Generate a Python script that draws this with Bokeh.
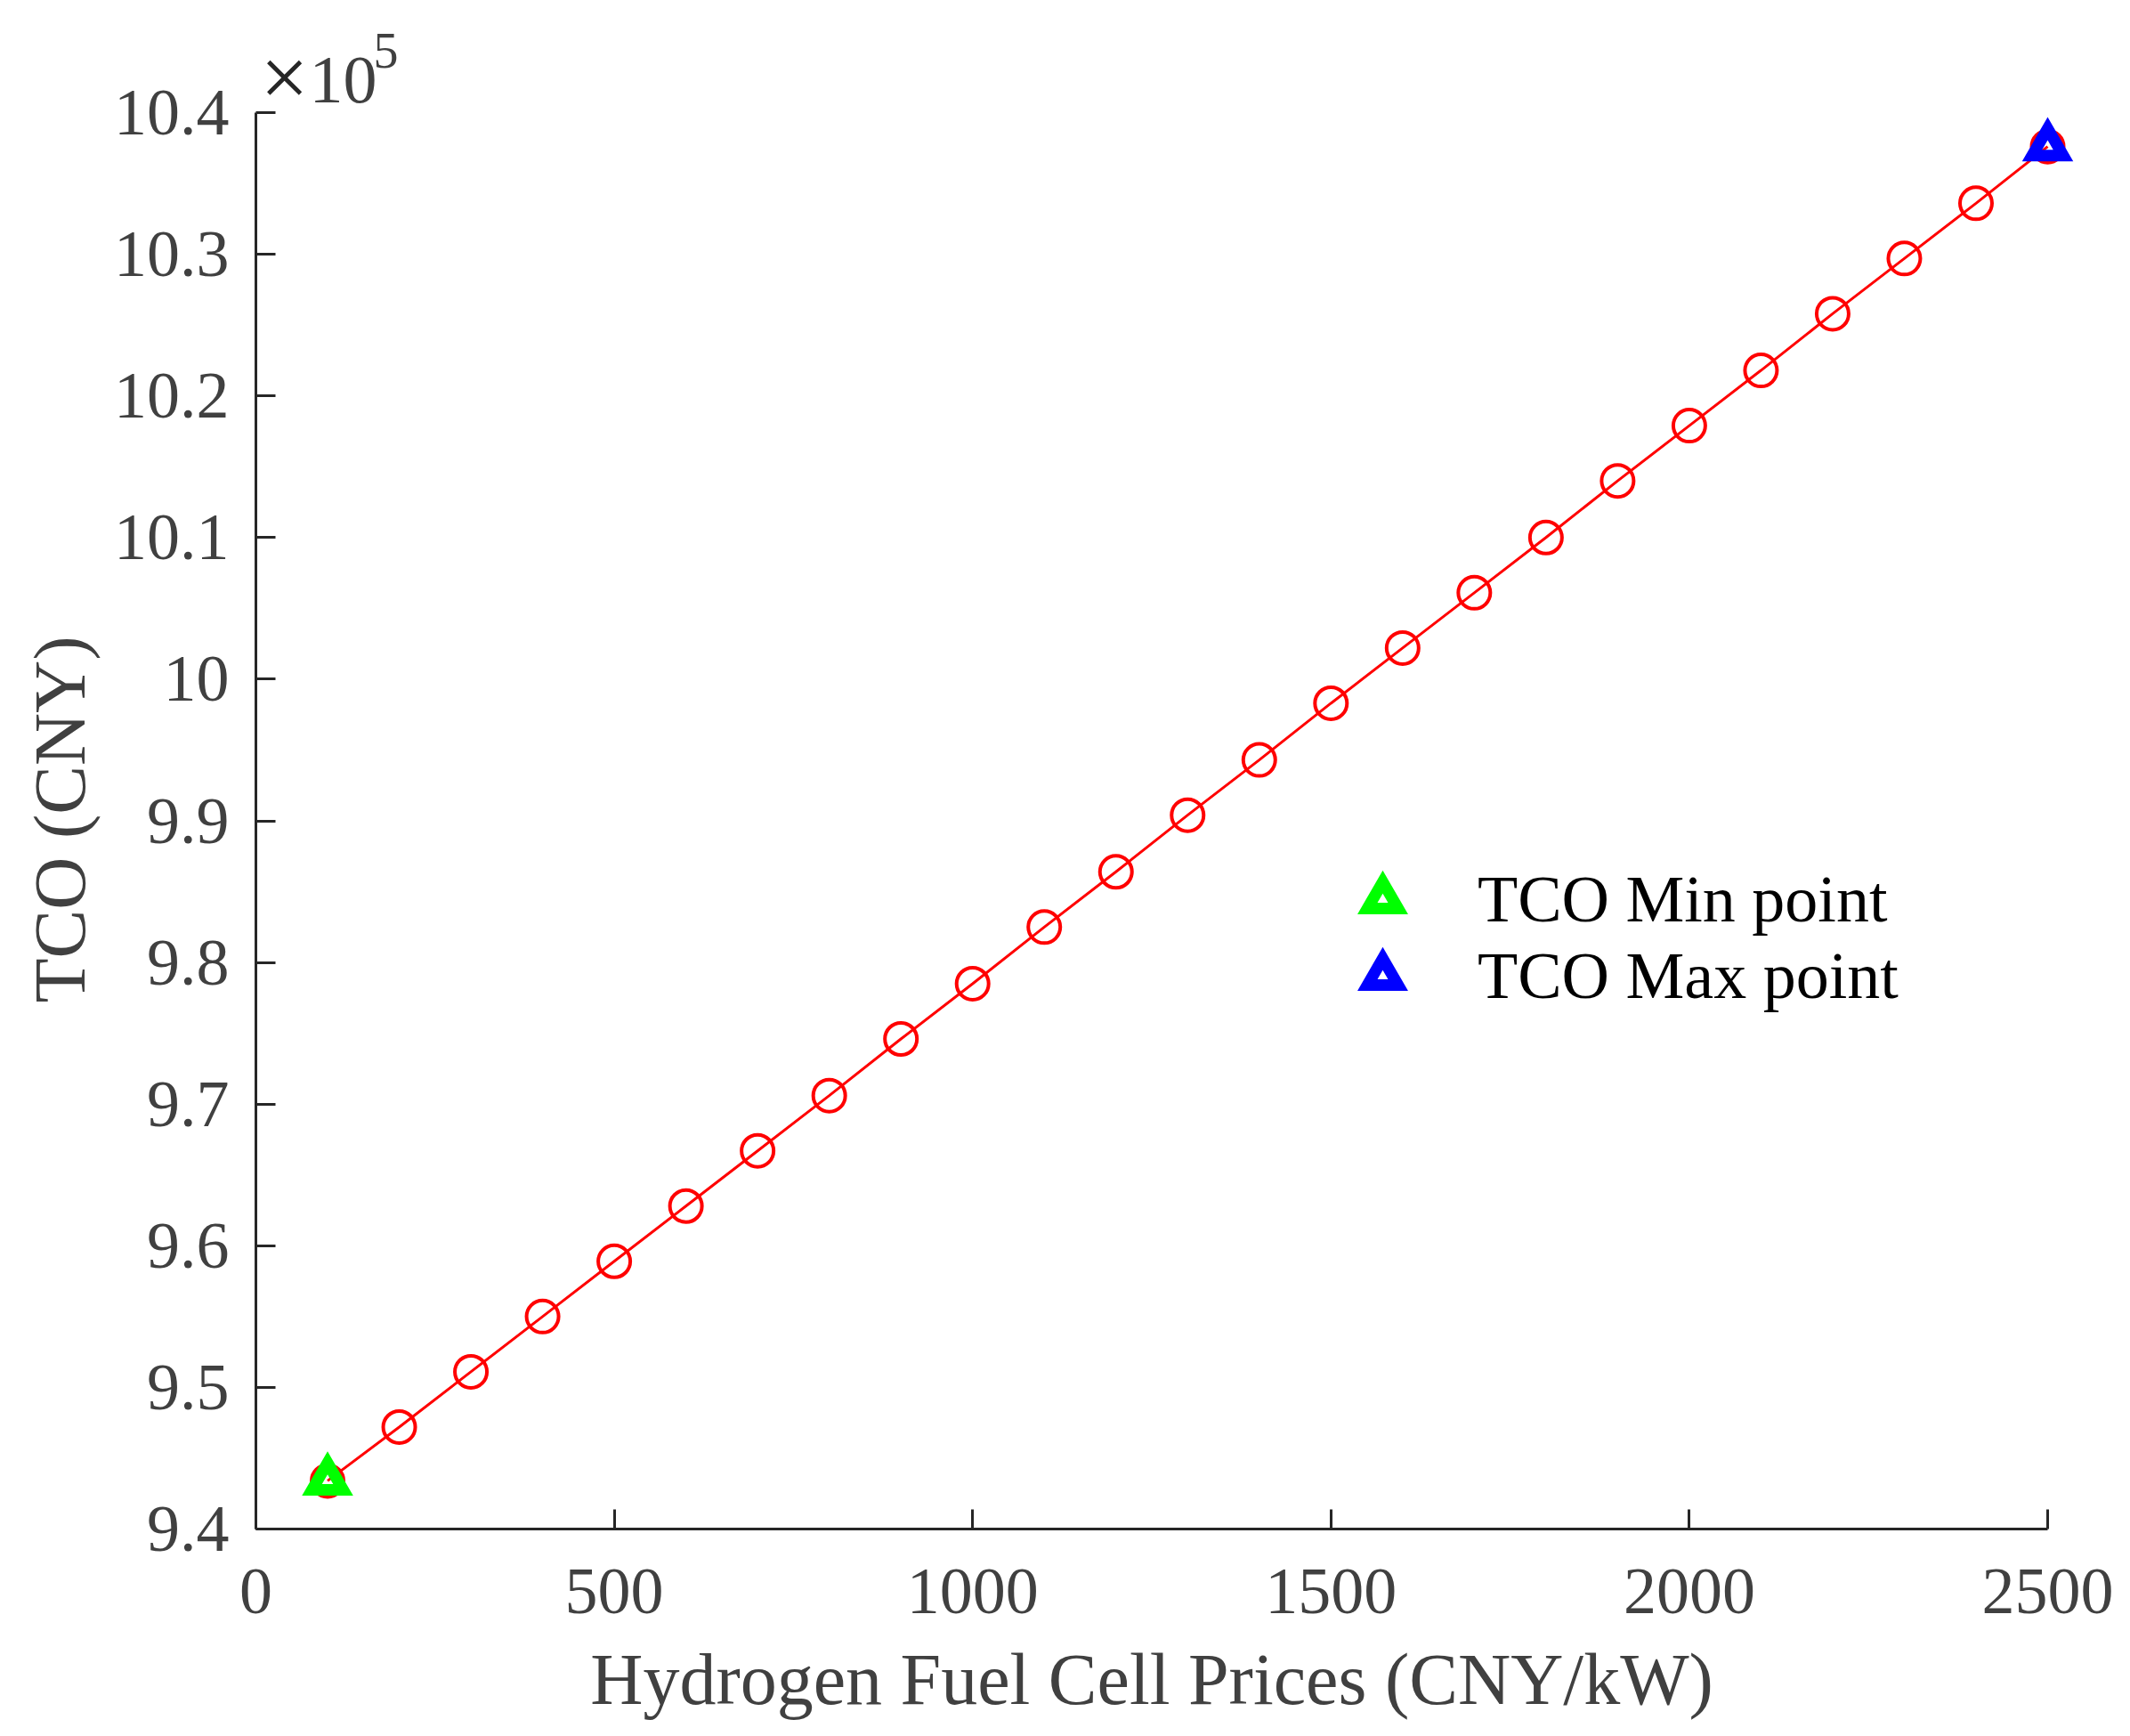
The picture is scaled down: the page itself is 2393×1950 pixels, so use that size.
import math
from bokeh.plotting import figure
from bokeh.models import (Range1d, FixedTicker, CustomJSTickFormatter, Label, Legend,
                          LegendItem, LinearAxis)
from bokeh.embed import file_html
from bokeh.resources import INLINE

# ---- Data (TCO in units of 1e5 CNY) ----
prices = [100, 200, 300, 400, 500, 600, 700, 800, 900, 1000, 1100, 1200, 1300,
          1400, 1500, 1600, 1700, 1800, 1900, 2000, 2100, 2200, 2300, 2400, 2500]
tco = [9.434, 9.472, 9.511, 9.550, 9.589, 9.628, 9.667, 9.706, 9.746, 9.785,
       9.825, 9.864, 9.904, 9.943, 9.983, 10.022, 10.061, 10.100, 10.140, 10.179,
       10.218, 10.258, 10.297, 10.336, 10.376]
min_price, min_tco = [100], [9.434]
max_price, max_tco = [2500], [10.376]
x_ticks = [0, 500, 1000, 1500, 2000, 2500]
y_ticks = [9.4, 9.5, 9.6, 9.7, 9.8, 9.9, 10.0, 10.1, 10.2, 10.3, 10.4]
x_lim = (0, 2500)
y_lim = (9.4, 10.4)

# ---- Layout (pixels) ----
W, H = 2377, 1934
AX_L, AX_R, AX_T, AX_B = 287, 2300, 126, 1717
SX = (AX_R - AX_L) / (x_lim[1] - x_lim[0])
SY = (AX_B - AX_T) / (y_lim[1] - y_lim[0])
X0 = x_lim[0] - AX_L / SX
X1 = X0 + W / SX
Y1 = y_lim[1] + AX_T / SY
Y0 = Y1 - H / SY
BASE_FIX = 0.3  # empirical baseline correction (fraction of font size)

def px2x(px):
    return X0 + px / SX

def py2y(py):
    return Y1 - py / SY

FONT = "Liberation Serif"
TICK_COLOR = "#404040"
AXIS_COLOR = "#262626"

p = figure(width=W, height=H, output_backend="svg", toolbar_location=None,
           x_range=Range1d(X0, X1), y_range=Range1d(Y0, Y1),
           x_axis_location=None, y_axis_location=None,
           min_border=0, min_border_left=0, min_border_right=0,
           min_border_top=0, min_border_bottom=0)
p.outline_line_color = None
p.grid.visible = False
p.background_fill_color = "white"
p.border_fill_color = "white"

xaxis = LinearAxis(fixed_location=y_lim[0], bounds=x_lim, ticker=FixedTicker(ticks=x_ticks))
yaxis = LinearAxis(fixed_location=x_lim[0], bounds=y_lim, ticker=FixedTicker(ticks=y_ticks))
yaxis.formatter = CustomJSTickFormatter(code="""
    if (Math.abs(tick - Math.round(tick)) < 1e-6) { return Math.round(tick).toString(); }
    return tick.toFixed(1);
""")
for ax in (xaxis, yaxis):
    ax.axis_line_color = AXIS_COLOR
    ax.axis_line_width = 3
    ax.major_tick_line_color = AXIS_COLOR
    ax.major_tick_line_width = 3
    ax.major_tick_in = 22
    ax.major_tick_out = 0
    ax.minor_tick_line_color = None
    ax.major_label_text_font = FONT
    ax.major_label_text_font_size = "74px"
    ax.major_label_text_color = TICK_COLOR
xaxis.major_label_standoff = 45
yaxis.major_label_standoff = 30
p.add_layout(xaxis, "below")
p.add_layout(yaxis, "left")

# axis titles
p.add_layout(Label(x=(x_lim[0] + x_lim[1]) / 2, y=py2y(1911 - BASE_FIX * 82),
                   text="Hydrogen Fuel Cell Prices (CNY/kW)", text_font=FONT,
                   text_font_size="82px", text_color=TICK_COLOR,
                   text_align="center", text_baseline="alphabetic"))
p.add_layout(Label(x=px2x(92 - BASE_FIX * 82), y=py2y(920), angle=math.pi / 2,
                   text="TCO (CNY)", text_font=FONT,
                   text_font_size="82px", text_color=TICK_COLOR,
                   text_align="center", text_baseline="alphabetic"))

# exponent marker
p.add_layout(Label(x=px2x(292), y=py2y(115 - BASE_FIX * 96), text="×", text_font=FONT,
                   text_font_size="96px", text_color=AXIS_COLOR,
                   text_baseline="alphabetic"))
p.add_layout(Label(x=px2x(347), y=py2y(112 - BASE_FIX * 76), text="10", text_font=FONT,
                   text_font_size="76px", text_color=TICK_COLOR,
                   text_baseline="alphabetic"))
p.add_layout(Label(x=px2x(419), y=py2y(73 - BASE_FIX * 56), text="5", text_font=FONT,
                   text_font_size="56px", text_color=TICK_COLOR,
                   text_baseline="alphabetic"))

# data
p.line(prices, tco, line_color="red", line_width=3)
p.scatter(prices, tco, marker="circle", size=36, fill_color=None,
          line_color="red", line_width=4)
r_min = p.scatter(min_price, min_tco, marker="triangle", size=35, fill_color=None,
                  line_color="#00ff00", line_width=13, line_join="miter")
r_max = p.scatter(max_price, max_tco, marker="triangle", size=35, fill_color=None,
                  line_color="#0000ff", line_width=13, line_join="miter")

legend = Legend(items=[LegendItem(label="TCO Min point", renderers=[r_min]),
                       LegendItem(label="TCO Max point", renderers=[r_max])],
                location=(1510, H - 1139))
legend.border_line_color = None
legend.background_fill_alpha = 0
legend.label_text_font = FONT
legend.label_text_font_size = "74px"
legend.label_text_color = "black"
legend.glyph_width = 86
legend.glyph_height = 86
legend.label_height = 86
legend.spacing = 0
legend.padding = 0
legend.margin = 0
legend.label_standoff = 64
p.add_layout(legend, "center")

open("out.html", "w").write(file_html(p, INLINE))
